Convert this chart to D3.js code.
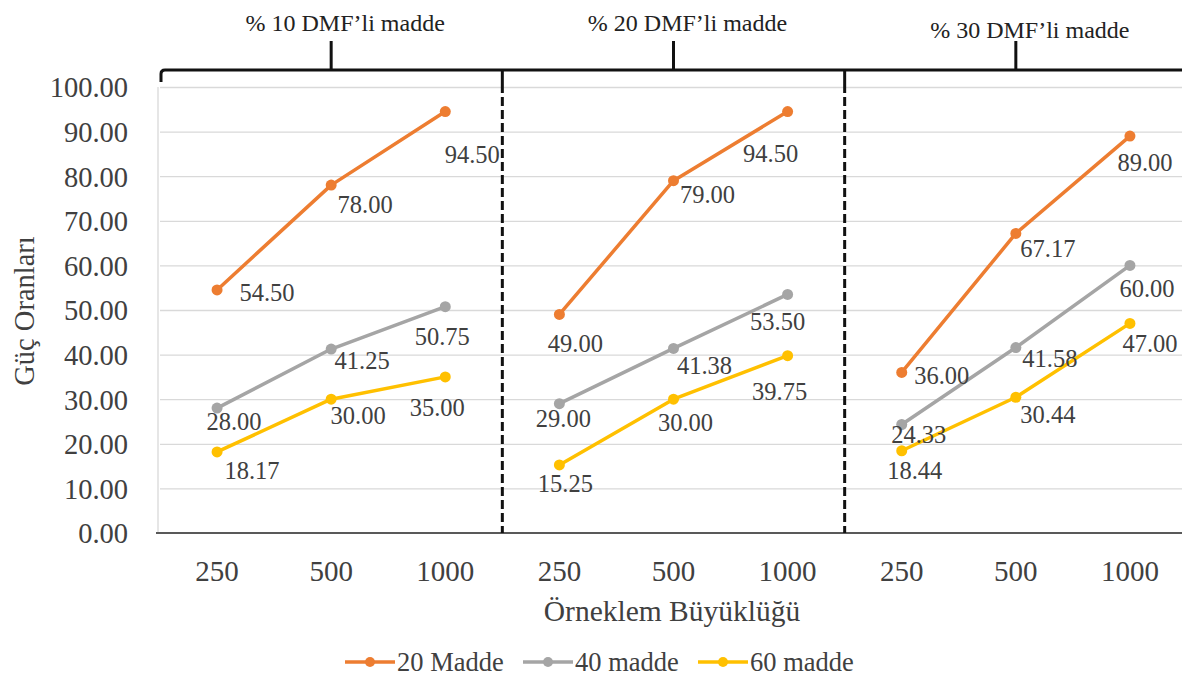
<!DOCTYPE html>
<html>
<head>
<meta charset="utf-8">
<script src="https://cdn.jsdelivr.net/npm/d3@7"></script>
<style>
  html, body { margin: 0; padding: 0; background: #fff; }
  svg { display: block; }
  svg text { font-family: "Liberation Serif", "DejaVu Serif", serif; }
</style>
</head>
<body>
<svg id="chart" width="1182" height="690"></svg>
<script>
// Groups (DMF rate) and sample sizes within each group
const groups = ["% 10 DMF’li madde", "% 20 DMF’li madde", "% 30 DMF’li madde"];
const sizes = ["250", "500", "1000"];

// Power rates per series, in group order (3 sizes per group)
const madde20 = [54.50, 78.00, 94.50, 49.00, 79.00, 94.50, 36.00, 67.17, 89.00];
const madde40 = [28.00, 41.25, 50.75, 29.00, 41.38, 53.50, 24.33, 41.58, 60.00];
const madde60 = [18.17, 30.00, 35.00, 15.25, 30.00, 39.75, 18.44, 30.44, 47.00];

const seriesNames = ["20 Madde", "40 madde", "60 madde"];
const yTicks = [0, 10, 20, 30, 40, 50, 60, 70, 80, 90, 100];

// Hand-placed nudges for the value labels, relative to each point
const labelNudge20 = [[50, 2], [34, 19], [27, 43], [16, 29], [34, 14], [-17, 42], [40, 3], [32, 15], [15, 26]];
const labelNudge40 = [[17, 13], [31, 11], [-3, 30], [4, 15], [31, 17], [-10, 27], [17, 10], [34, 11], [17, 23]];
const labelNudge60 = [[35, 18], [27, 16], [-8, 31], [6, 18], [12, 23], [-8, 36], [13, 20], [32, 17], [20, 20]];

const colors = ["#ED7D31", "#A5A5A5", "#FFC000"];

const svg = d3.select("#chart");
const plot = { left: 160, right: 1187, top: 87, bottom: 533 };

const cats = d3.range(groups.length * sizes.length);
const x = d3.scaleBand().domain(cats).range([plot.left, plot.right]);
const cx = i => x(i) + x.bandwidth() / 2;
const y = d3.scaleLinear().domain([0, 100]).range([plot.bottom, plot.top]);

// Horizontal gridlines
svg.append("g")
  .attr("transform", `translate(${plot.left},0)`)
  .call(d3.axisLeft(y).tickValues(yTicks.slice(1)).tickSize(-(plot.right - plot.left)).tickFormat(""))
  .call(g => g.select(".domain").remove())
  .call(g => g.selectAll("line").attr("stroke", "#D9D9D9").attr("stroke-width", 1.3));

// Left edge of the plot area
svg.append("line")
  .attr("x1", plot.left - 2).attr("x2", plot.left - 2)
  .attr("y1", plot.top).attr("y2", plot.bottom)
  .attr("stroke", "#D9D9D9").attr("stroke-width", 1.3);

// Y axis labels
svg.append("g")
  .attr("transform", `translate(${plot.left - 29},0)`)
  .call(d3.axisLeft(y).tickValues(yTicks).tickSize(0).tickFormat(d3.format(".2f")))
  .call(g => g.select(".domain").remove())
  .call(g => g.selectAll("text")
    .attr("font-size", 28.5)
    .attr("fill", "#404040").attr("dx", 0).attr("dy", "0.35em"));

// X axis baseline and size labels
svg.append("line")
  .attr("x1", plot.left - 4).attr("x2", 1182)
  .attr("y1", plot.bottom).attr("y2", plot.bottom)
  .attr("stroke", "#595959").attr("stroke-width", 2);

svg.append("g").selectAll("text")
  .data(cats)
  .join("text")
  .attr("x", d => cx(d))
  .attr("y", 571)
  .attr("dy", "0.35em")
  .attr("text-anchor", "middle")
  .attr("font-size", 29)
  .attr("fill", "#404040")
  .text(d => sizes[d % sizes.length]);

// Group bracket on top, dashed group dividers
const groupEdges = d3.range(1, groups.length).map(k => x(k * sizes.length));
const bracketY = 70;
svg.append("path")
  .attr("d", `M${plot.left + 1},${bracketY + 12} L${plot.left + 1},${bracketY + 4} Q${plot.left + 1},${bracketY} ${plot.left + 5},${bracketY} L1182,${bracketY}`)
  .attr("fill", "none").attr("stroke", "#111").attr("stroke-width", 3);

groupEdges.forEach(ex => {
  svg.append("line")
    .attr("x1", ex).attr("x2", ex).attr("y1", bracketY).attr("y2", bracketY + 14)
    .attr("stroke", "#111").attr("stroke-width", 3);
  svg.append("line")
    .attr("x1", ex).attr("x2", ex).attr("y1", bracketY + 14).attr("y2", plot.bottom)
    .attr("stroke", "#111").attr("stroke-width", 3)
    .attr("stroke-dasharray", "9,4");
});

groups.forEach((name, k) => {
  const mid = (x(k * sizes.length) + x(k * sizes.length + sizes.length - 1) + x.bandwidth()) / 2;
  svg.append("line")
    .attr("x1", mid).attr("x2", mid).attr("y1", 41).attr("y2", bracketY)
    .attr("stroke", "#111").attr("stroke-width", 3);
  svg.append("text")
    .attr("x", mid + 14)
    .attr("y", k === 2 ? 30 : 23)
    .attr("dy", "0.35em")
    .attr("text-anchor", "middle")
    .attr("font-size", 24)
    .attr("fill", "#222")
    .text(name);
});

// Series lines, markers and value labels
const allSeries = [madde20, madde40, madde60];
const allNudges = [labelNudge20, labelNudge40, labelNudge60];
const line = d3.line().x(d => cx(d.i)).y(d => y(d.v));

allSeries.forEach((vals, s) => {
  const g = svg.append("g");
  groups.forEach((_, k) => {
    const pts = sizes.map((_, j) => ({ i: k * sizes.length + j, v: vals[k * sizes.length + j] }));
    g.append("path")
      .datum(pts)
      .attr("d", line)
      .attr("fill", "none")
      .attr("stroke", colors[s])
      .attr("stroke-width", 3.5)
      .attr("stroke-linejoin", "round");
  });
  g.selectAll("circle")
    .data(vals.map((v, i) => ({ i, v })))
    .join("circle")
    .attr("cx", d => cx(d.i))
    .attr("cy", d => y(d.v))
    .attr("r", 5.5)
    .attr("fill", colors[s]);
});

allSeries.forEach((vals, s) => {
  svg.append("g").selectAll("text")
    .data(vals.map((v, i) => ({ i, v })))
    .join("text")
    .attr("x", d => cx(d.i) + allNudges[s][d.i][0])
    .attr("y", d => y(d.v) + allNudges[s][d.i][1])
    .attr("dy", "0.35em")
    .attr("text-anchor", "middle")
    .attr("font-size", 24.5)
    .attr("fill", "#404040")
    .text(d => d3.format(".2f")(d.v));
});

// Axis titles
svg.append("text")
  .attr("transform", "translate(24,311) rotate(-90)")
  .attr("dy", "0.35em")
  .attr("text-anchor", "middle")
  .attr("font-size", 28.5)
  .attr("fill", "#404040")
  .text("Güç Oranları");

svg.append("text")
  .attr("x", 672).attr("y", 611)
  .attr("dy", "0.35em")
  .attr("text-anchor", "middle")
  .attr("font-size", 29.5)
  .attr("fill", "#404040")
  .text("Örneklem Büyüklüğü");

// Legend
const legendX = [345, 523, 698];
seriesNames.forEach((name, s) => {
  const lg = svg.append("g").attr("transform", `translate(${legendX[s]},662)`);
  lg.append("line").attr("x1", 0).attr("x2", 50).attr("y1", 0).attr("y2", 0)
    .attr("stroke", colors[s]).attr("stroke-width", 3.5);
  lg.append("circle").attr("cx", 25).attr("cy", 0).attr("r", 5).attr("fill", colors[s]);
  lg.append("text").attr("x", 52).attr("y", 0).attr("dy", "0.35em")
    .attr("font-size", 26.5).attr("fill", "#404040").text(name);
});
</script>
</body>
</html>
